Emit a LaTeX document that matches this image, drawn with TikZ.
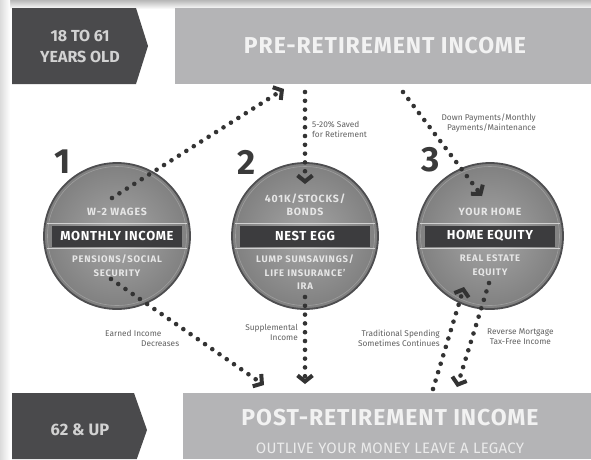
\documentclass[tikz,border=0pt]{standalone}
\usepackage{fontspec}
\setmainfont{Fira Sans}
\usetikzlibrary{arrows.meta,calc}
\definecolor{darkbox}{HTML}{4A4A4C}
\definecolor{graybox}{HTML}{B4B4B6}
\definecolor{dotc}{HTML}{333333}
\definecolor{bandc}{HTML}{3C3C3E}
\definecolor{rimc}{HTML}{4E4E50}
\definecolor{ctext}{HTML}{E6E6E6}
\definecolor{labc}{HTML}{606060}
\definecolor{numc}{HTML}{3A3A3A}
\definecolor{boxtext}{HTML}{D2D2D2}
\tikzset{
  dotline/.style={draw=dotc, line width=4.6pt, line cap=round,
    dash pattern=on 0pt off 8.8pt,
    -{Straight Barb[length=6pt,width=15pt,line width=4pt,sharp]}},
  medalc/.style={circle, minimum size=146pt, inner sep=0pt,
    shading=radial, inner color=black!35, outer color=black!50,
    draw=rimc, line width=1.8pt},
  band/.style={fill=bandc, minimum width=130pt, minimum height=21pt, inner sep=0pt,
    text=white, font=\bfseries\fontsize{13}{13}\selectfont\addfontfeature{LetterSpace=5}},
  sepline/.style={draw=black!18, line width=0.8pt},
  ctop/.style={anchor=south, inner sep=0pt, align=center, text=ctext,
    font=\bfseries\fontsize{10.5}{13}\selectfont\addfontfeature{LetterSpace=8}},
  cbot/.style={anchor=north, inner sep=0pt, align=center, text=ctext,
    font=\bfseries\fontsize{9.5}{13.5}\selectfont\addfontfeature{LetterSpace=8}},
  numlab/.style={text=numc, font=\bfseries\fontsize{35}{35}\selectfont, inner sep=0pt},
  smalllab/.style={text=labc, font=\fontsize{8.3}{10}\selectfont, inner sep=0pt},
  headtext/.style={text=white!95!black, font=\bfseries\fontsize{23}{24}\selectfont\addfontfeature{LetterSpace=4}, inner sep=0pt},
  agetext/.style={text=boxtext, font=\bfseries\fontsize{16}{21}\selectfont, align=center, inner sep=0pt}
}
\newcommand\medal[6]{%
  \node[medalc] (#1) at (#2,#3) {};
  \draw[black!38, line width=0.6pt] (#2,#3) circle (69.5pt);
  \begin{scope}
    \clip (#2,#3) circle (71pt);
    \draw[sepline] (#2-75,#3-12.8) -- (#2+75,#3-12.8);
    \draw[sepline] (#2-75,#3+12.8) -- (#2+75,#3+12.8);
  \end{scope}
  \node[band] (#1band) at (#2,#3) {#5};
  \node[ctop] (#1top) at (#2,#3-20) {#4};
  \node[cbot] (#1bot) at (#2,#3+19) {#6};
}
\begin{document}
\begin{tikzpicture}[x=1pt,y=-1pt]
\useasboundingbox (0,0) rectangle (591,459);
\clip (0,0) rectangle (591,459);
\fill[white] (0,0) rectangle (591,459);
\shade[top color=black!28, bottom color=white] (0,0) rectangle (591,9);
\shade[left color=black!14, right color=white] (0,0) rectangle (10,459);

% top band
\fill[darkbox] (12,8) -- (136,8) -- (148,46) -- (136,84) -- (12,84) -- cycle;
\node[agetext] (age1) at (80,46) {18 TO 61\\YEARS OLD};
\fill[graybox] (175,8) rectangle (591,84);
\node[headtext] (pre) at (385,46) {PRE-RETIREMENT INCOME};

% bottom band
\fill[darkbox] (12,393) -- (134,393) -- (147,430) -- (136.8,459) -- (12,459) -- cycle;
\node[agetext, font=\bfseries\fontsize{16.5}{21}\selectfont] (age2) at (80,430) {62 \& UP};
\fill[graybox] (183,393) rectangle (591,459);
\node[headtext] (post) at (390,418) {POST-RETIREMENT INCOME};
\node[text=white!92!black, font=\fontsize{15}{16}\selectfont\addfontfeature{LetterSpace=2}, inner sep=0pt] (legacy) at (390,448) {OUTLIVE YOUR MONEY LEAVE A LEGACY};

% medallions
\medal{m1}{117}{236}{W-2 WAGES}{MONTHLY INCOME}{PENSIONS/SOCIAL\\SECURITY}
\medal{m2}{305}{236}{401K/STOCKS/\\BONDS}{NEST EGG}{LUMP SUMSAVINGS/\\LIFE INSURANCE'\\IRA}
\medal{m3}{490}{236}{YOUR HOME}{HOME EQUITY}{REAL ESTATE\\EQUITY}

\node[numlab] (n1) at (63,162) {1};
\node[numlab] (n2) at (247,162) {2};
\node[numlab] (n3) at (431,160) {3};

% connector end points
\coordinate (a1s) at (112,198);
\coordinate (a1e) at (284,89);
\coordinate (a2s) at (305,92);
\coordinate (a2e) at (305,184);
\coordinate (a3s) at (403,92);
\coordinate (a3e) at (482,196);
\coordinate (a4s) at (111,279);
\coordinate (a4e) at (264,385);
\coordinate (a5s) at (305,297);
\coordinate (a5e) at (305,384);
\coordinate (a6s) at (433,389);
\coordinate (a6e) at (464,287);
\coordinate (a7s) at (489,283);
\coordinate (a7e) at (457,387);

\draw[dotline] (a1s) -- (a1e);
\draw[dotline] (a2s) -- (a2e);
\draw[dotline] (a3s) -- (a3e);
\draw[dotline] (a4s) -- (a4e);
\draw[dotline] (a5s) -- (a5e);
\draw[dotline] (a6s) -- (a6e);
\draw[dotline] (a7s) -- (a7e);

% labels
\node[smalllab, anchor=west, align=left] (l2) at (312,129) {5-20\% Saved\\for Retirement};
\node[smalllab, anchor=east, align=right] (l3) at (536,123) {Down Payments/Monthly\\Payments/Maintenance};
\node[smalllab, anchor=west, align=left] (l4) at (105,338) {Earned Income\\\hspace*{36pt}Decreases};
\node[smalllab, anchor=east, align=right] (l5) at (298,332) {Supplemental\\Income};
\node[smalllab, anchor=east, align=right] (l6) at (440,338) {Traditional Spending\\Sometimes Continues};
\node[smalllab, anchor=west, align=center] (l7) at (487,337) {Reverse Mortgage\\Tax-Free Income};
\end{tikzpicture}
\end{document}
